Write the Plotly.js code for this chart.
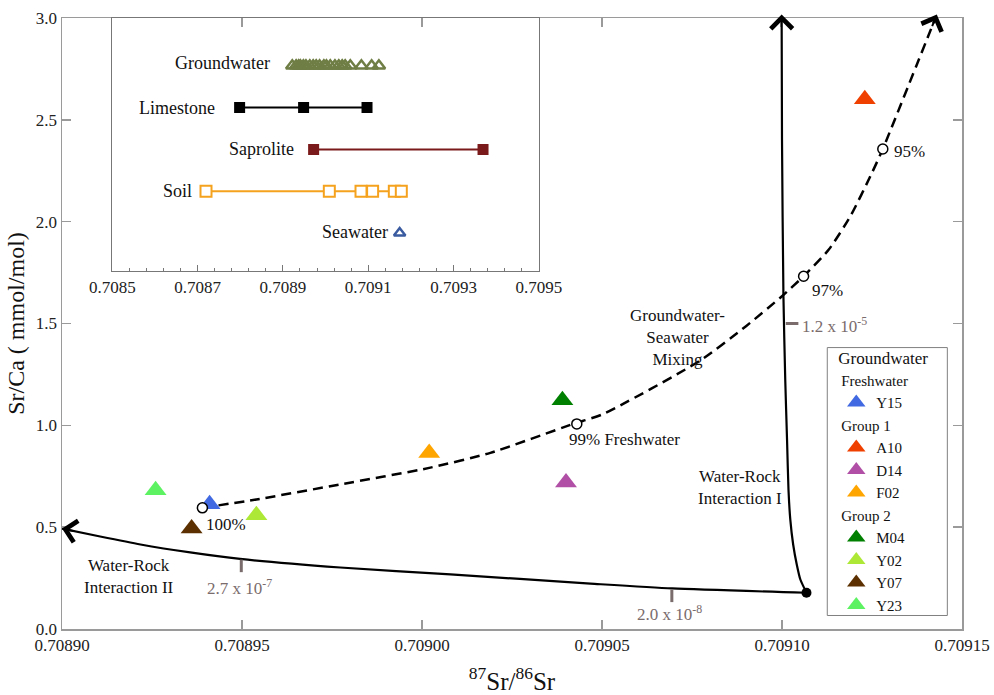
<!DOCTYPE html>
<html><head><meta charset="utf-8">
<script src="https://cdn.plot.ly/plotly-3.0.1.min.js"></script>
<style>html,body{margin:0;padding:0;background:#fff}#chart{width:994px;height:695px}</style>
</head><body><div id="chart"></div>
<script>
// ===== data =====
const sampleNames  = ['Y15', 'A10', 'D14', 'F02', 'M04', 'Y02', 'Y07', 'Y23'];
const sampleGroups = ['Freshwater', 'Group 1', 'Group 1', 'Group 1', 'Group 2', 'Group 2', 'Group 2', 'Group 2'];
const sampleSr     = [0.708941, 0.709123, 0.709040, 0.709002, 0.709039, 0.708954, 0.708936, 0.708926];
const sampleSrCa   = [0.613, 2.601, 0.719, 0.864, 1.123, 0.559, 0.494, 0.681];

const mixSr   = [0.708939, 0.708954, 0.708977, 0.709002, 0.709019, 0.709042, 0.709050, 0.709077, 0.709090, 0.709100, 0.709106, 0.709113, 0.709119, 0.709125, 0.709128, 0.709143];
const mixSrCa = [0.595, 0.636, 0.709, 0.791, 0.865, 1.007, 1.053, 1.315, 1.487, 1.634, 1.732, 1.863, 2.027, 2.240, 2.357, 3.017];
const mixMarkSr     = [0.708939, 0.709043, 0.709106, 0.709128];
const mixMarkSrCa   = [0.595, 1.007, 1.732, 2.357];
const mixMarkLabels = ['100%', '99% Freshwater', '97%', '95%'];

const wri1Sr   = [0.7091068, 0.7091051, 0.7091041, 0.7091031, 0.7091023, 0.7091018, 0.7091014, 0.7091009, 0.7091004, 0.7091000, 0.7090999];
const wri1SrCa = [0.178, 0.243, 0.317, 0.415, 0.538, 0.685, 0.930, 1.225, 1.632, 2.403, 3.017];
const wri2Sr   = [0.7091068, 0.7090695, 0.7090468, 0.7090079, 0.7089773, 0.7089495, 0.7089356, 0.7089218, 0.7089106, 0.7089000];
const wri2SrCa = [0.178, 0.199, 0.223, 0.268, 0.302, 0.344, 0.376, 0.415, 0.454, 0.493];

const rateSr     = [0.7089498, 0.7090694, 0.7091028];
const rateSrCa   = [0.310, 0.163, 1.500];
const rateLabels = ['2.7 x 10<sup>-7</sup>', '2.0 x 10<sup>-8</sup>', '1.2 x 10<sup>-5</sup>'];

const insetRows          = ['Groundwater', 'Limestone', 'Saprolite', 'Soil', 'Seawater'];
const insetGroundwaterSr = [0.708922, 0.708931, 0.708937, 0.708941, 0.708948, 0.708954, 0.708963, 0.708971, 0.708978, 0.708986, 0.708996, 0.709002, 0.709011, 0.709022, 0.709031, 0.709039, 0.709046, 0.709058, 0.709084, 0.709108, 0.709125];
const insetLimestoneSr   = [0.7087985, 0.7089485, 0.7090972];
const insetSaproliteSr   = [0.7089720, 0.7093692];
const insetSoilSr        = [0.7087197, 0.7090088, 0.7090831, 0.7091103, 0.7091612, 0.7091776];
const insetSeawaterSr    = [0.7091737];

const xTicks      = [0.70890, 0.70895, 0.70900, 0.70905, 0.70910, 0.70915];
const yTicks      = [0.0, 0.5, 1.0, 1.5, 2.0, 2.5, 3.0];
const insetXTicks = [0.7085, 0.7087, 0.7089, 0.7091, 0.7093, 0.7095];

// ===== styles =====
const FONT = 'Liberation Serif, Times New Roman, serif';
const sampleColors = ['#4169E1', '#F04000', '#B04FA5', '#FFA500', '#008000', '#ADE836', '#5C3000', '#5CF262'];
const rateGray = '#7a6c6c';
const axisGray = '#9a9a9a';
const xRange = [0.70890, 0.70915], yRange = [0, 3];
const plotW = 900, plotH = 611.5;

const traces = [];

traces.push({x: mixSr, y: mixSrCa, mode: 'lines', type: 'scatter', showlegend: false, hoverinfo: 'skip',
  line: {color: '#000', width: 2.5, dash: '10px,6px', shape: 'spline', smoothing: 0.6}});
traces.push({x: wri1Sr, y: wri1SrCa, mode: 'lines', type: 'scatter', showlegend: false, hoverinfo: 'skip',
  line: {color: '#000', width: 2.2, shape: 'spline', smoothing: 0.6}});
traces.push({x: wri2Sr, y: wri2SrCa, mode: 'lines', type: 'scatter', showlegend: false, hoverinfo: 'skip',
  line: {color: '#000', width: 2.2, shape: 'spline', smoothing: 0.6}});
traces.push({x: [wri1Sr[0]], y: [wri1SrCa[0]], mode: 'markers', type: 'scatter', showlegend: false,
  marker: {color: '#000', size: 10}});
traces.push({x: rateSr, y: rateSrCa, mode: 'markers', type: 'scatter', showlegend: false, hoverinfo: 'skip',
  marker: {symbol: ['line-ns', 'line-ns', 'line-ew'], size: 9, color: rateGray, line: {color: rateGray, width: 3}}});

for (let i = 0; i < sampleNames.length; i++) {
  traces.push({x: [sampleSr[i]], y: [sampleSrCa[i]], mode: 'markers', type: 'scatter',
    name: sampleNames[i], legendgroup: sampleGroups[i],
    legendgrouptitle: {text: sampleGroups[i], font: {family: FONT, size: 15, color: '#111'}},
    marker: {symbol: 'triangle-up', size: 19, color: sampleColors[i]}});
}
traces.push({x: mixMarkSr, y: mixMarkSrCa, mode: 'markers', type: 'scatter', showlegend: false,
  marker: {symbol: 'circle', size: 10, color: '#fff', line: {color: '#000', width: 1.5}}});

// inset traces
const rowY = insetRows.map((r, i) => insetRows.length - i);
const rowOf = name => rowY[insetRows.indexOf(name)];
traces.push({x: insetGroundwaterSr, y: insetGroundwaterSr.map(() => rowOf('Groundwater')), xaxis: 'x2', yaxis: 'y2',
  mode: 'markers', type: 'scatter', showlegend: false,
  marker: {symbol: 'triangle-up-open', size: 11, color: '#6F7E45', line: {color: '#6F7E45', width: 2.5}}});
traces.push({x: insetLimestoneSr, y: insetLimestoneSr.map(() => rowOf('Limestone')), xaxis: 'x2', yaxis: 'y2',
  mode: 'lines+markers', type: 'scatter', showlegend: false,
  line: {color: '#000', width: 2}, marker: {symbol: 'square', size: 11, color: '#000'}});
traces.push({x: insetSaproliteSr, y: insetSaproliteSr.map(() => rowOf('Saprolite')), xaxis: 'x2', yaxis: 'y2',
  mode: 'lines+markers', type: 'scatter', showlegend: false,
  line: {color: '#7B1A1A', width: 2}, marker: {symbol: 'square', size: 11, color: '#7B1A1A'}});
traces.push({x: insetSoilSr, y: insetSoilSr.map(() => rowOf('Soil')), xaxis: 'x2', yaxis: 'y2',
  mode: 'lines+markers', type: 'scatter', showlegend: false,
  line: {color: '#F5A21E', width: 2}, marker: {symbol: 'square', size: 11, color: '#fff', line: {color: '#F5A21E', width: 2}}});
traces.push({x: insetSeawaterSr, y: insetSeawaterSr.map(() => rowOf('Seawater')), xaxis: 'x2', yaxis: 'y2',
  mode: 'markers', type: 'scatter', showlegend: false,
  marker: {symbol: 'triangle-up', size: 10, color: '#fff', line: {color: '#3A5BA0', width: 2.5}}});

// ===== annotations =====
const ann = [];
const txt = (extra) => Object.assign({showarrow: false, font: {family: FONT, size: 17, color: '#111'}}, extra);

const mixLabelShift = [[2, -17], [-10, -16], [6, -14], [9, -3]];
mixMarkLabels.forEach((t, i) => ann.push(txt({x: mixMarkSr[i], y: mixMarkSrCa[i], text: t,
  xanchor: 'left', yanchor: 'middle', xshift: mixLabelShift[i][0], yshift: mixLabelShift[i][1]})));

const rateLabelStyle = [['center', -2, -21], ['center', -2, -17], ['left', 8, -1]];
rateLabels.forEach((t, i) => ann.push(txt({x: rateSr[i], y: rateSrCa[i], text: t,
  xanchor: rateLabelStyle[i][0], yanchor: 'middle', xshift: rateLabelStyle[i][1], yshift: rateLabelStyle[i][2],
  font: {family: FONT, size: 17, color: rateGray}})));

ann.push(txt({x: 0.7090710, y: 1.43, text: 'Groundwater-<br>Seawater<br>Mixing', align: 'center'}));
ann.push(txt({x: 0.7090884, y: 0.697, text: 'Water-Rock<br>Interaction I', align: 'center'}));
ann.push(txt({x: 0.7089186, y: 0.258, text: 'Water-Rock<br>Interaction II', align: 'center'}));

// arrow heads at the ends of the curves, pointing along the last segment
function arrowAt(xs, ys) {
  const n = xs.length;
  const kx = plotW / (xRange[1] - xRange[0]), ky = plotH / (yRange[1] - yRange[0]);
  const dx = (xs[n - 2] - xs[n - 1]) * kx, dy = (ys[n - 2] - ys[n - 1]) * ky;
  const s = 14 / Math.hypot(dx, dy);
  return {x: xs[n - 1], y: ys[n - 1], ax: xs[n - 1] + (xs[n - 2] - xs[n - 1]) * s, ay: ys[n - 1] + (ys[n - 2] - ys[n - 1]) * s,
    xref: 'x', yref: 'y', axref: 'x', ayref: 'y', text: '', showarrow: true,
    arrowhead: 4, arrowsize: 2.1, arrowwidth: 2, arrowcolor: '#000', standoff: 0};
}
ann.push(arrowAt(mixSr, mixSrCa));
ann.push(arrowAt(wri1Sr, wri1SrCa));
ann.push(arrowAt(wri2Sr, wri2SrCa));

// inset row labels, next to each row's first point
const insetFirst = [insetGroundwaterSr, insetLimestoneSr, insetSaproliteSr, insetSoilSr, insetSeawaterSr].map(a => Math.min(...a));
const insetLabelShift = [[-20, 3], [-23, 0], [-18, 0], [-12, 0], [-10, 1]];
insetRows.forEach((r, i) => ann.push(txt({xref: 'x2', yref: 'y2', x: insetFirst[i], y: rowY[i], text: r,
  xanchor: 'right', yanchor: 'middle', xshift: insetLabelShift[i][0], yshift: insetLabelShift[i][1],
  font: {family: FONT, size: 18, color: '#111'}})));

const layout = {
  width: 994, height: 695,
  margin: {l: 62, r: 32, t: 18, b: 65.5},
  paper_bgcolor: '#fff', plot_bgcolor: 'rgba(0,0,0,0)',
  font: {family: FONT, size: 17, color: '#222'},
  showlegend: true,
  xaxis: {range: xRange, tickvals: xTicks, tickformat: '.5f', ticks: 'inside', ticklen: 9,
    tickwidth: 1.5, tickcolor: axisGray, showline: true, linecolor: axisGray, linewidth: 1.5, mirror: 'allticks',
    showgrid: false, zeroline: false, tickfont: {family: FONT, size: 17, color: '#222'},
    title: {text: '<sup>87</sup>Sr/<sup>86</sup>Sr', font: {family: FONT, size: 25, color: '#111'}, standoff: 22}},
  yaxis: {range: yRange, tickvals: yTicks, tickformat: '.1f', ticks: 'inside', ticklen: 9,
    tickwidth: 1.5, tickcolor: axisGray, showline: true, linecolor: axisGray, linewidth: 1.5, mirror: 'allticks',
    showgrid: false, zeroline: false, tickfont: {family: FONT, size: 17, color: '#222'},
    title: {text: 'Sr/Ca ( mmol/mol)', font: {family: FONT, size: 24, color: '#111'}, standoff: 4}},
  xaxis2: {domain: [0.0559, 0.5298], anchor: 'y2', range: [0.7085, 0.7095], tickvals: insetXTicks, tickformat: '.4f',
    ticks: 'inside', ticklen: 6, tickcolor: '#777', showline: true, linecolor: '#777', linewidth: 1.5, mirror: true,
    minor: {tick0: 0.7085, dtick: 0.00004, ticks: 'inside', ticklen: 3, tickcolor: '#777'},
    showgrid: false, zeroline: false, tickfont: {family: FONT, size: 17, color: '#222'}},
  yaxis2: {domain: [0.5865, 1], anchor: 'x2', range: [0.1, 6.142], showticklabels: false, ticks: '',
    showline: true, linecolor: '#777', linewidth: 1.5, mirror: true, showgrid: false, zeroline: false},
  legend: {x: 0.8603, y: 0.4704, xanchor: 'left', yanchor: 'top', bgcolor: 'rgba(0,0,0,0)', borderwidth: 0,
    font: {family: FONT, size: 15, color: '#111'}, title: {text: 'Groundwater', font: {family: FONT, size: 17, color: '#111'}},
    traceorder: 'grouped', tracegroupgap: 0, itemsizing: 'trace'},
  shapes: [{type: 'rect', xref: 'paper', yref: 'paper', x0: 0.8503, x1: 0.9837, y0: 0.0221, y1: 0.4606,
    line: {color: '#808080', width: 1}, fillcolor: '#fff', layer: 'above'}],
  annotations: ann
};

Plotly.newPlot('chart', traces, layout, {displayModeBar: false, staticPlot: true});
</script>
</body></html>
